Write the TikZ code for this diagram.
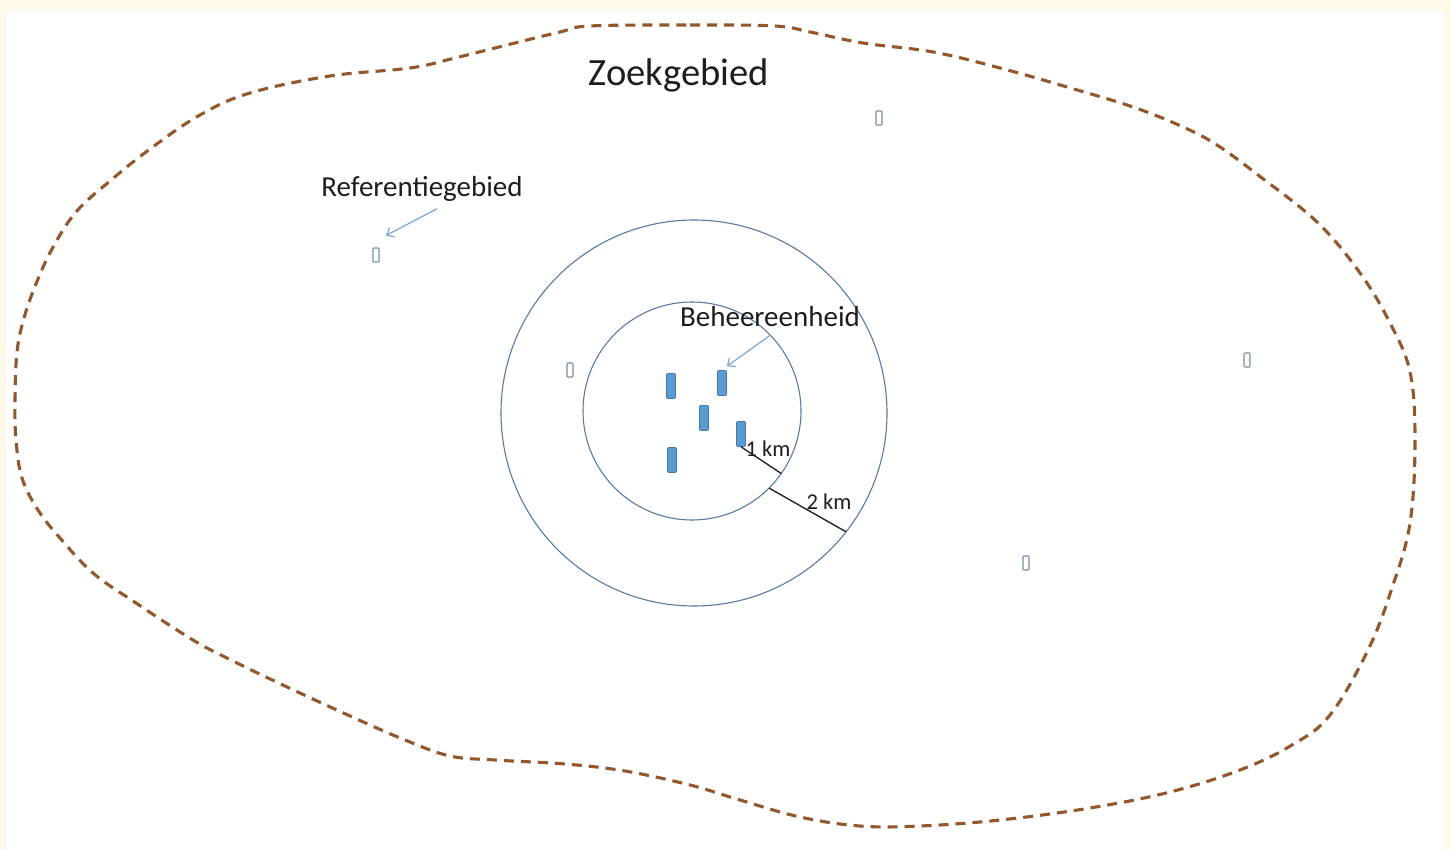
\documentclass[tikz,border=0pt]{standalone}
\usepackage{fontspec}
\setmainfont{Carlito}
\usetikzlibrary{arrows.meta,calc}
\definecolor{paper}{RGB}{254,249,233}
\definecolor{boundary}{RGB}{146,88,44}
\definecolor{ringline}{RGB}{86,124,164}
\definecolor{unitfill}{RGB}{91,155,213}
\definecolor{unitedge}{RGB}{70,120,170}
\definecolor{refedge}{RGB}{120,140,160}
\definecolor{pointerblue}{RGB}{122,166,210}
\definecolor{labeltext}{RGB}{30,30,30}
\tikzset{
  zoekline/.style={draw=boundary, line width=3.1pt, dash pattern=on 10pt off 7pt, line cap=butt},
  ring/.style={circle, draw=ringline, line width=1.1pt, inner sep=0pt, outer sep=0pt},
  unit/.style={rectangle, rounded corners=1pt, fill=unitfill, draw=unitedge, line width=0.6pt,
    minimum width=9pt, minimum height=25pt, inner sep=0pt},
  refunit/.style={rectangle, rounded corners=0.8pt, draw=refedge, line width=1.1pt, fill=white,
    minimum width=6pt, minimum height=14pt, inner sep=0pt},
  pointer/.style={draw=pointerblue, line width=1.2pt, -{Straight Barb[length=6pt,width=11pt]}},
  radius/.style={draw=black!85, line width=1.4pt},
  bigtext/.style={font=\fontsize{38.6}{46}\selectfont, text=labeltext, inner sep=0pt},
  midtext/.style={font=\fontsize{29}{35}\selectfont, text=labeltext, inner sep=0pt},
  smalltext/.style={font=\fontsize{22.6}{27}\selectfont, text=labeltext, inner sep=0pt},
}
\begin{document}
\begin{tikzpicture}[x=1pt,y=-1pt]
  % paper and sheet
  \fill[paper] (0,0) rectangle (1451,850);
  \fill[white] (6,11) rectangle (1443,850);
  \useasboundingbox (0,0) rectangle (1451,850);

  % search area outline
  \draw[zoekline] plot[smooth cycle, tension=0.62] coordinates {
    (590,26) (690,25) (775,26) (810,32) (863,43) (933,52) (1000,68) (1067,87)
    (1133,107) (1183,127) (1217,145) (1258,175) (1317,222) (1360,273) (1390,323)
    (1410,372) (1415,440) (1410,523) (1392,588) (1368,650) (1330,715) (1292,745)
    (1240,770) (1170,792) (1090,808) (1000,820) (920,826) (860,826) (800,817)
    (740,800) (690,785) (625,771) (565,764) (495,760) (450,756) (405,740)
    (350,716) (285,686) (235,662) (193,640) (133,601) (93,573) (60,538)
    (38,510) (22,478) (16,440) (15,400) (17,352) (24,318) (36,284) (52,249)
    (76,212) (110,181) (150,149) (200,115) (250,93) (330,76) (410,68)
    (455,58) (511,44) (560,32)
  };

  % title
  \node[bigtext] (zoek) at (679,75) {Zoekgebied};

  % buffer rings around the management unit
  \node[ring, minimum size=386pt] (outer) at (694,413) {};
  \node[ring, minimum size=218pt] (inner) at (692,411) {};

  % management unit parcels
  \node[unit] (u1) at (671,386) {};
  \node[unit] (u2) at (722,383) {};
  \node[unit] (u3) at (704,418) {};
  \node[unit] (u4) at (741,434) {};
  \node[unit] (u5) at (672,460) {};

  % reference parcels
  \node[refunit] (r1) at (376,255) {};
  \node[refunit] (r2) at (570,370) {};
  \node[refunit] (r3) at (879,118) {};
  \node[refunit] (r4) at (1247,360) {};
  \node[refunit] (r5) at (1026,563) {};

  % labels with pointers
  \node[midtext] (refl) at (422,189) {Referentiegebied};
  \node[midtext] (behl) at (770,317) {Beheereenheid};
  \draw[pointer] ($(refl.south)+(15,7)$) -- ($(r1.north)+(10,-12)$);
  \draw[pointer] ($(behl.south)+(0,8)$) -- ($(u2.north)+(5,-4)$);

  % radius markers
  \draw[radius] (u4.south) -- (inner.-35);
  \draw[radius] (inner.-45) -- (outer.-38);
  \node[smalltext] (km1) at (768,449) {1 km};
  \node[smalltext] (km2) at (829,502) {2 km};
\end{tikzpicture}
\end{document}
